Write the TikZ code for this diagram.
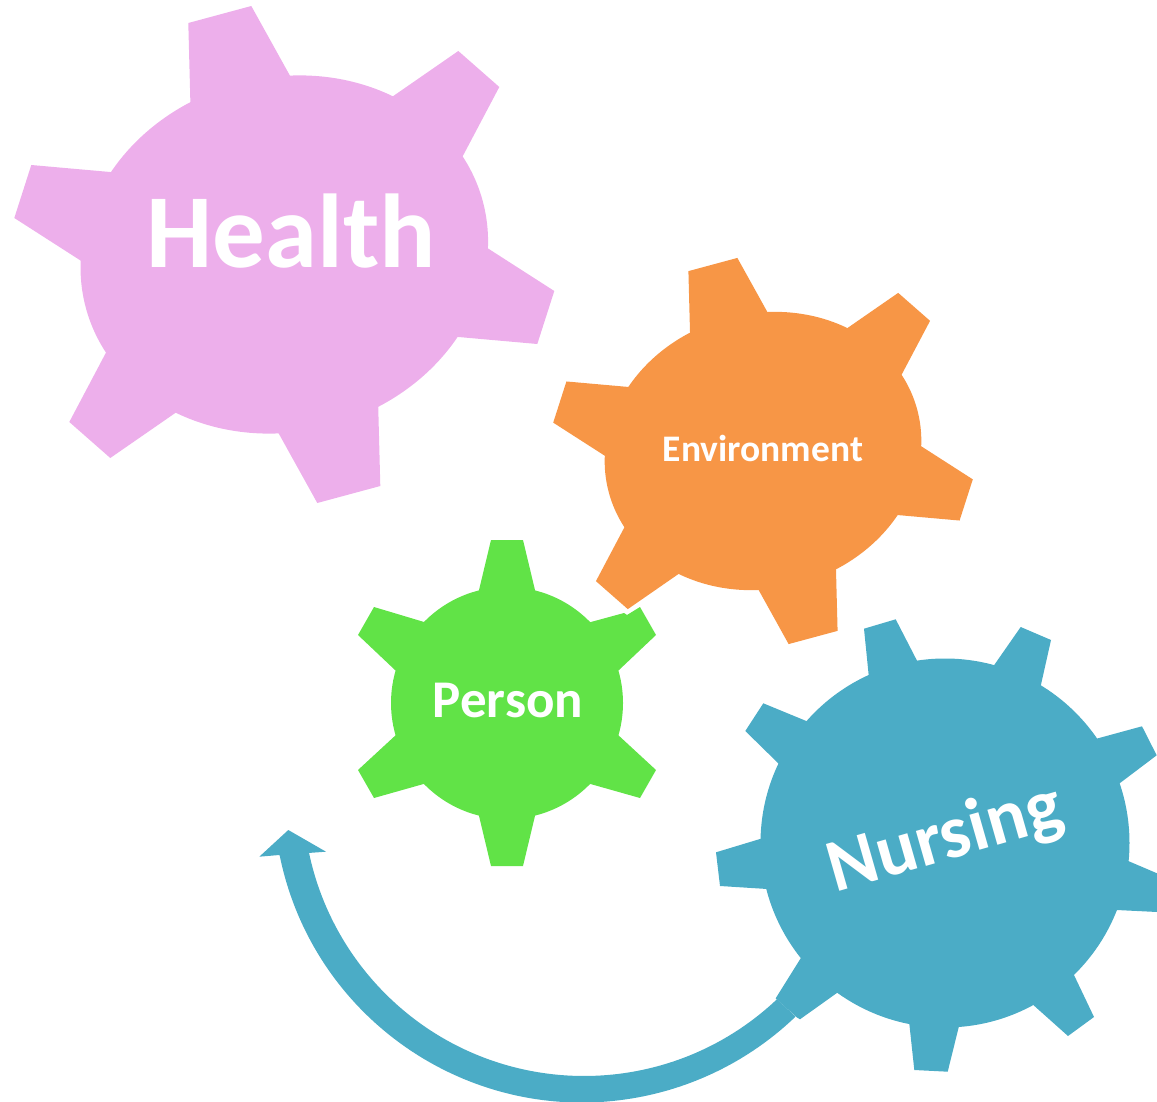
\documentclass[tikz,border=0pt]{standalone}
\usepackage{fontspec}
\setmainfont{Carlito}
\definecolor{pinkgear}{HTML}{EDAFEB}
\definecolor{orangegear}{HTML}{F79646}
\definecolor{greengear}{HTML}{61E347}
\definecolor{bluegear}{HTML}{4BACC6}
\newcommand{\bigteeth}{%
  \fill (-93.7,-143.5) -- (-96,-231.5) -- (-33,-248.5) -- (9.9,-171.2) -- cycle;
  \fill (100.8,-152.8) -- (174,-203.5) -- (215,-167.5) -- (173.3,-88.6) -- cycle;
  \fill (194.6,-11.9) -- (270,36.5) -- (253,89.5) -- (164,81.6) -- cycle;
}
\newcommand{\biggear}{%
  \fill[rotate=-15] (0,0) ellipse [x radius=205.5, y radius=177];
  \bigteeth
  \begin{scope}[rotate=180]\bigteeth\end{scope}
}
\tikzset{
  gearlabel/.style={text=white, inner sep=0pt, anchor=base},
}
\begin{document}
\begin{tikzpicture}[x=1pt,y=1pt,yscale=-1]
\useasboundingbox (0,0) rectangle (1157,1102);
\clip (0,0) rectangle (1157,1102);
% Health
\begin{scope}[shift={(284.3,254.5)},fill=pinkgear]\biggear\end{scope}
% Environment
\begin{scope}[shift={(763,451)},scale=0.777,fill=orangegear]\biggear\end{scope}
% Person
\begin{scope}[fill=greengear]
  \fill (507,703) circle [radius=116];
  \fill (476.7,599.7) -- (491,540) -- (523,540) -- (537.3,599.7) -- cycle;
  \fill (581.3,624.6) -- (624,613) -- (627,615) -- (640,607) -- (656,635) -- (611.7,676.9) -- cycle;
  \fill (611.7,729.1) -- (656,770) -- (640,798) -- (581.3,781.4) -- cycle;
  \fill (537.3,806.3) -- (523,866) -- (491,866) -- (476.7,806.3) -- cycle;
  \fill (432.7,781.4) -- (374,798) -- (358,770) -- (402.3,729.1) -- cycle;
  \fill (402.3,676.9) -- (358,635) -- (374,607) -- (432.7,624.6) -- cycle;
\end{scope}
% Nursing
\begin{scope}[fill=bluegear]
  \fill (945,843) circle [radius=184.5];
  \fill (869.7,685.3) -- (864,628.7) -- (895.7,619.3) -- (921.6,669.6) -- cycle;
  \fill (988.3,673.5) -- (1020.7,627) -- (1051,640) -- (1038.5,695.8) -- cycle;
  \fill (1087,741.3) -- (1142,726.3) -- (1156.7,755.3) -- (1111.7,789.3) -- cycle;
  \fill (1119.1,857.1) -- (1157,873.3) -- (1157,912) -- (1106.7,909.5) -- cycle;
  \fill (1069.7,966) -- (1094,1017) -- (1068,1036) -- (1025.8,998.3) -- cycle;
  \fill (961.4,1016.3) -- (947.7,1071.7) -- (914.3,1070) -- (908.2,1013.4) -- cycle;
  \fill (845.4,986.9) -- (800,1019.3) -- (796.7,1017.3) -- (775.7,998.3) -- (806,949.8) -- cycle;
  \fill (776.7,889.6) -- (720,886) -- (716,852.3) -- (770.6,835.8) -- cycle;
  \fill (785.4,770.3) -- (745.3,731) -- (763.3,703.3) -- (815.5,724.8) -- cycle;
  % curved arrow
  \fill ([shift={(584,795)}]46.6:281) arc [start angle=46.6, end angle=168.1, radius=281]
    -- (326,851.7) -- (288.3,830) -- (259.3,856.7) -- (279.3,855)
    -- ([shift={(582,794)}]168.5:308.5) arc [start angle=168.5, end angle=46.2, radius=308.5] -- cycle;
\end{scope}
% Labels
\node[gearlabel, font=\bfseries\fontsize{105}{105}\selectfont] (health) at (291,268) {Health};
\node[gearlabel, font=\bfseries\fontsize{37.5}{37.5}\selectfont] (environment) at (763,461) {Environment};
\node[gearlabel, font=\bfseries\fontsize{53}{53}\selectfont] (person) at (508,717.5) {Person};
\node[gearlabel, font=\bfseries\fontsize{75}{75}\selectfont, rotate=16] (nursing) at (951,859) {Nursing};
\end{tikzpicture}
\end{document}
